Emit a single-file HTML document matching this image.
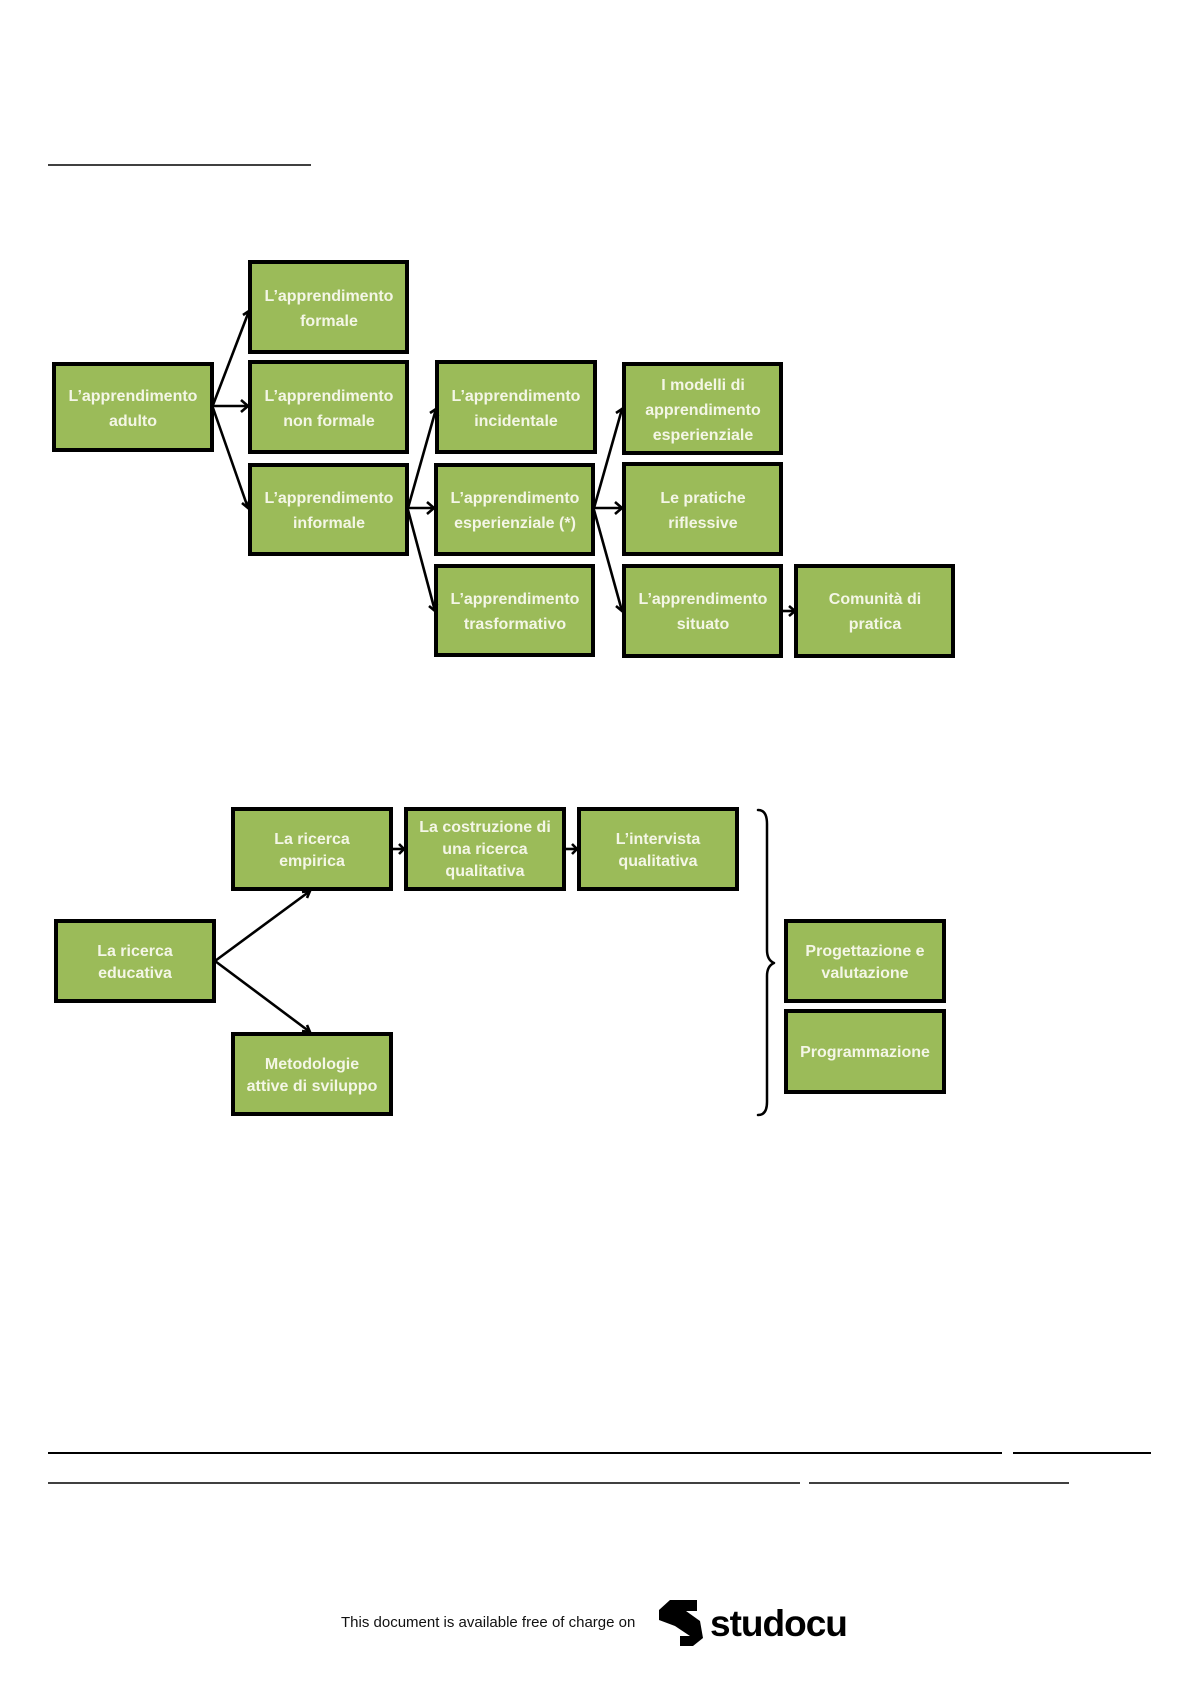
<!DOCTYPE html>
<html><head><meta charset="utf-8"><style>
html,body{margin:0;padding:0;background:#fff;}
svg{display:block;}
.b{fill:#9bbb59;stroke:#000;stroke-width:4;}
.t{font-family:"Liberation Sans Narrow","Liberation Sans",sans-serif;font-size:16px;fill:#f4f6e6;text-anchor:middle;font-weight:bold;}
.a{stroke:#000;stroke-width:2.6;fill:none;}
.h{stroke:#000;stroke-width:2.5;fill:none;stroke-linecap:round;stroke-linejoin:round;}
</style></head><body>
<svg width="1190" height="1684" viewBox="0 0 1190 1684" xmlns="http://www.w3.org/2000/svg">
<rect width="1190" height="1684" fill="#fff"/>
<line x1="48" y1="165" x2="311" y2="165" stroke="#000" stroke-width="1.5"/>

<!-- diagram 1 -->
<rect class="b" x="54" y="364" width="158" height="86"/>
<text class="t" x="133" y="401">L’apprendimento</text><text class="t" x="133" y="426">adulto</text>
<rect class="b" x="250" y="262" width="157" height="90"/>
<text class="t" x="329" y="301">L’apprendimento</text><text class="t" x="329" y="326">formale</text>
<rect class="b" x="250" y="362" width="157" height="90"/>
<text class="t" x="329" y="401">L’apprendimento</text><text class="t" x="329" y="426">non formale</text>
<rect class="b" x="250" y="465" width="157" height="89"/>
<text class="t" x="329" y="503">L’apprendimento</text><text class="t" x="329" y="528">informale</text>
<rect class="b" x="437" y="362" width="158" height="90"/>
<text class="t" x="516" y="401">L’apprendimento</text><text class="t" x="516" y="426">incidentale</text>
<rect class="b" x="436" y="465" width="157" height="89"/>
<text class="t" x="515" y="503">L’apprendimento</text><text class="t" x="515" y="528">esperienziale (*)</text>
<rect class="b" x="436" y="566" width="157" height="89"/>
<text class="t" x="515" y="604">L’apprendimento</text><text class="t" x="515" y="629">trasformativo</text>
<rect class="b" x="624" y="364" width="157" height="89"/>
<text class="t" x="703" y="390">I modelli di</text><text class="t" x="703" y="415">apprendimento</text><text class="t" x="703" y="440">esperienziale</text>
<rect class="b" x="624" y="464" width="157" height="90"/>
<text class="t" x="703" y="503">Le pratiche</text><text class="t" x="703" y="528">riflessive</text>
<rect class="b" x="624" y="566" width="157" height="90"/>
<text class="t" x="703" y="604">L’apprendimento</text><text class="t" x="703" y="629">situato</text>
<rect class="b" x="796" y="566" width="157" height="90"/>
<text class="t" x="875" y="604">Comunità di</text><text class="t" x="875" y="629">pratica</text>

<!-- arrows d1 -->
<g class="a">
<path d="M213 405 L249 311"/><path d="M243 315 L249 311 L250 318"/>
<path d="M213 406 L248 406"/><path d="M241 400 L248 406 L241 412"/>
<path d="M213 408 L248 508"/><path d="M242 503 L248 508 L249 501"/>
<path d="M408 508 L436 409"/><path d="M430 413 L436 409 L438 416"/>
<path d="M408 508 L434 508"/><path d="M427 502 L434 508 L427 514"/>
<path d="M408 510 L435 611"/><path d="M429 606 L435 611 L437 604"/>
<path d="M594 508 L622 409"/><path d="M616 413 L622 409 L624 416"/>
<path d="M594 508 L622 508"/><path d="M615 502 L622 508 L615 514"/>
<path d="M594 510 L622 611"/><path d="M616 606 L622 611 L624 604"/>
<path d="M782 611 L795 611"/><path d="M789 606 L795 611 L789 616"/>
</g>

<!-- diagram 2 -->
<rect class="b" x="233" y="809" width="158" height="80"/>
<text class="t" x="312" y="844">La ricerca</text><text class="t" x="312" y="866">empirica</text>
<rect class="b" x="406" y="809" width="158" height="80"/>
<text class="t" x="485" y="832">La costruzione di</text><text class="t" x="485" y="854">una ricerca</text><text class="t" x="485" y="876">qualitativa</text>
<rect class="b" x="579" y="809" width="158" height="80"/>
<text class="t" x="658" y="844">L’intervista</text><text class="t" x="658" y="866">qualitativa</text>
<rect class="b" x="56" y="921" width="158" height="80"/>
<text class="t" x="135" y="956">La ricerca</text><text class="t" x="135" y="978">educativa</text>
<rect class="b" x="233" y="1034" width="158" height="80"/>
<text class="t" x="312" y="1069">Metodologie</text><text class="t" x="312" y="1091">attive di sviluppo</text>
<rect class="b" x="786" y="921" width="158" height="80"/>
<text class="t" x="865" y="956">Progettazione e</text><text class="t" x="865" y="978">valutazione</text>
<rect class="b" x="786" y="1011" width="158" height="81"/>
<text class="t" x="865" y="1057">Programmazione</text>

<g class="a">
<path d="M215 961 L310 891"/><path d="M302 892 L310 891 L307 898"/>
<path d="M215 961 L310 1032"/><path d="M307 1025 L310 1032 L302 1031"/>
<path d="M392 849 L404 849"/><path d="M399 844 L404 849 L399 854"/>
<path d="M565 849 L577 849"/><path d="M572 844 L577 849 L572 854"/>
</g>
<path class="h" d="M758 810 Q767 810 767 824 L767 950 Q767 960 774 963 Q767 966 767 976 L767 1102 Q767 1115 758 1115"/>

<!-- bottom lines -->
<line x1="48" y1="1453" x2="1002" y2="1453" stroke="#000" stroke-width="2"/>
<line x1="1013" y1="1453" x2="1151" y2="1453" stroke="#000" stroke-width="2"/>
<line x1="48" y1="1483" x2="800" y2="1483" stroke="#000" stroke-width="1.5"/>
<line x1="809" y1="1483" x2="1069" y2="1483" stroke="#000" stroke-width="1.5"/>

<!-- footer -->
<text x="341" y="1627" font-family="Liberation Sans Narrow,Liberation Sans,sans-serif" font-size="15" fill="#111">This document is available free of charge on</text>
<path d="M670 1600 L697 1600 L697 1611 L686 1611 L700 1621 L703 1638 L693 1646 L680 1646 L680 1636 L690 1636 L675 1626 L659 1620 L659 1610 Z" fill="#000"/>
<text x="710" y="1636" font-family="Liberation Sans,sans-serif" font-size="37" font-weight="bold" fill="#000" letter-spacing="-1">studocu</text>
</svg>
</body></html>
